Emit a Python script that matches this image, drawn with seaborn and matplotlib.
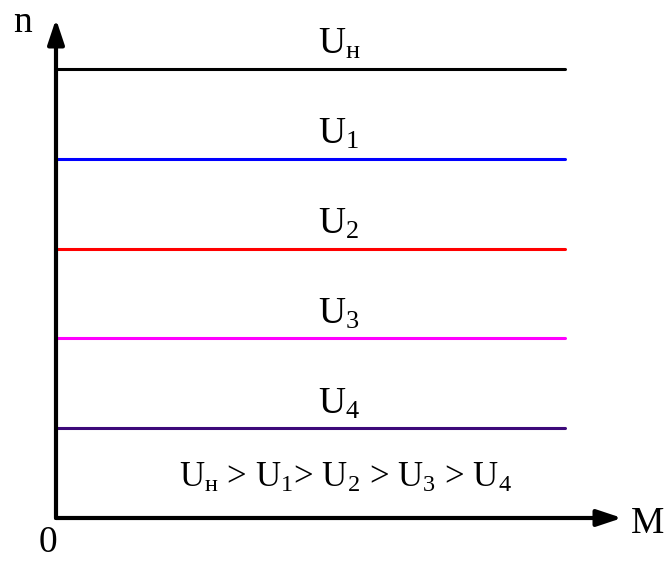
import pandas as pd
import seaborn as sns
import matplotlib.pyplot as plt

# speed levels of each characteristic (fraction of the n axis)
curves = ["Uн", "U1", "U2", "U3", "U4"]
levels = [0.90, 0.72, 0.54, 0.36, 0.18]
labels = [r"U$_{\mathrm{н}}$", r"U$_{1}$", r"U$_{2}$", r"U$_{3}$", r"U$_{4}$"]
colors = ["#000000", "#0000ff", "#ff0000", "#ff00ff", "#3d0a7a"]
m_range = [0.0, 0.90]
relation = r"U$_{\mathrm{н}}$ > U$_{1}$> U$_{2}$ > U$_{3}$ > U$_{4}$"

rows = []
for c, lv in zip(curves, levels):
    for m in m_range:
        rows.append({"curve": c, "M": m, "n": lv})
df = pd.DataFrame(rows)

sns.set_style("white")
plt.rcParams["font.family"] = ["Liberation Serif", "DejaVu Serif"]
plt.rcParams["mathtext.fontset"] = "custom"
plt.rcParams["mathtext.rm"] = "Liberation Serif"
plt.rcParams["mathtext.it"] = "Liberation Serif"
plt.rcParams["text.color"] = "black"

fig = plt.figure(figsize=(6.66, 5.65), dpi=100)
ax = fig.add_axes([56 / 666, 47 / 565, 566 / 666, 499 / 565])

sns.lineplot(data=df, x="M", y="n", hue="curve", palette=dict(zip(curves, colors)),
             linewidth=2.2, legend=False, ax=ax)

for lv, lab in zip(levels, labels):
    ax.text(0.5, lv + 0.03, lab, ha="center", va="baseline", fontsize=27)

ax.text(0.512, 0.062, relation, ha="center", va="baseline", fontsize=25)

# axes with arrows
arrow = dict(arrowstyle="-|>,head_length=0.75,head_width=0.25", lw=3, color="k",
             mutation_scale=20, shrinkA=0, shrinkB=0)
ax.annotate("", xy=(1, 0), xytext=(0, 0), arrowprops=arrow, annotation_clip=False)
ax.annotate("", xy=(0, 1), xytext=(0, 0), arrowprops=arrow, annotation_clip=False)

ax.text(-0.06, 0.974, "n", ha="center", va="baseline", fontsize=27)
ax.text(-0.014, -0.068, "0", ha="center", va="baseline", fontsize=27)
ax.text(1.046, -0.03, "M", ha="center", va="baseline", fontsize=27)

ax.set_xlim(0, 1)
ax.set_ylim(0, 1)
ax.set_xlabel("")
ax.set_ylabel("")
ax.set_xticks([])
ax.set_yticks([])
sns.despine(ax=ax, left=True, bottom=True)

fig.savefig("out.png", dpi=100)
